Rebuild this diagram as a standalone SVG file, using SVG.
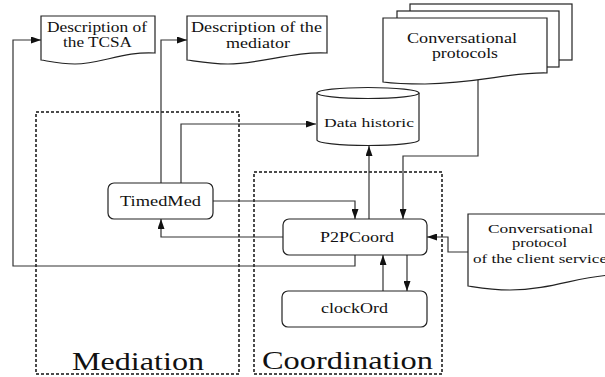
<svg xmlns="http://www.w3.org/2000/svg" width="605" height="377" viewBox="0 0 605 377" font-family="'Liberation Serif', 'DejaVu Serif', 'Times New Roman', Times, serif">
<style>
.t{fill:#111}
.box{fill:#fff;stroke:#222;stroke-width:1.2}
.doc{fill:#fff;stroke:#222;stroke-width:1.2}
.c{fill:none;stroke:#333;stroke-width:1.2}
.dash{fill:none;stroke:#111;stroke-width:1.5;stroke-dasharray:3 2}
</style>
<defs>
<marker id="ah" viewBox="0 0 10 7" refX="10" refY="3.5" markerWidth="10" markerHeight="7" markerUnits="userSpaceOnUse" orient="auto">
<path d="M0,0 L10,3.5 L0,7 Z" fill="#111"/>
</marker>
</defs>
<rect width="605" height="377" fill="#fff"/>

<g id="mediation">
<rect class="dash" x="36" y="112" width="203" height="262"/>
<text class="t" x="72" y="370" font-size="25" textLength="132" lengthAdjust="spacingAndGlyphs">Mediation</text>
</g>
<g id="coordination">
<rect class="dash" x="254" y="172" width="188" height="202"/>
<text class="t" x="262" y="369" font-size="25" textLength="171" lengthAdjust="spacingAndGlyphs">Coordination</text>
</g>

<g id="connectors">
<path class="c" d="M355,255 V266 H13 V40 H41" marker-end="url(#ah)"/>
<path class="c" d="M161,183 V40 H187" marker-end="url(#ah)"/>
<path class="c" d="M181,183 V124 H316" marker-end="url(#ah)"/>
<path class="c" d="M213,201 H355 V219" marker-end="url(#ah)"/>
<path class="c" d="M283,237 H161 V219" marker-end="url(#ah)"/>
<path class="c" d="M369,219 V146" marker-end="url(#ah)"/>
<path class="c" d="M478,80 V156 H403 V219" marker-end="url(#ah)"/>
<path class="c" d="M468,252 H448 V237 H427" marker-end="url(#ah)"/>
<path class="c" d="M383,291 V255" marker-end="url(#ah)"/>
<path class="c" d="M407,255 V291" marker-end="url(#ah)"/>
</g>

<g id="desc-tcsa">
<path class="doc" d="M41,16 H155 V53 C125,51 100,64 75,64 C60,64 48,61 41,60 Z"/>
<text class="t" x="47" y="32" font-size="14" textLength="100" lengthAdjust="spacingAndGlyphs">Description of</text>
<text class="t" x="63" y="47" font-size="14" textLength="69" lengthAdjust="spacingAndGlyphs">the TCSA</text>
</g>

<g id="desc-mediator">
<path class="doc" d="M187,16 H327 V53 C295,51 260,64 228,64 C210,64 195,61 187,60 Z"/>
<text class="t" x="191" y="32" font-size="14" textLength="131" lengthAdjust="spacingAndGlyphs">Description of the</text>
<text class="t" x="226" y="47.5" font-size="14" textLength="64" lengthAdjust="spacingAndGlyphs">mediator</text>
</g>

<g id="conv-protocols">
<rect class="doc" x="410" y="4" width="162" height="56"/>
<rect class="doc" x="397" y="11" width="162" height="56"/>
<path class="doc" d="M383,18 H547 V73 C510,72 480,83 425,84 C405,84 390,83 383,82 Z"/>
<text class="t" x="407" y="43" font-size="14" textLength="110" lengthAdjust="spacingAndGlyphs">Conversational</text>
<text class="t" x="432" y="58" font-size="14" textLength="66" lengthAdjust="spacingAndGlyphs">protocols</text>
</g>

<g id="data-historic">
<path class="box" d="M317,93 V140 A51,5.5 0 0 0 419,140 V93"/>
<ellipse class="box" cx="368" cy="93" rx="51" ry="5.5"/>
<text class="t" x="324" y="127" font-size="13" textLength="90" lengthAdjust="spacingAndGlyphs">Data historic</text>
</g>

<g id="timedmed">
<rect class="box" x="108" y="183" width="105" height="36" rx="6"/>
<text class="t" x="120" y="206" font-size="15" textLength="81" lengthAdjust="spacingAndGlyphs">TimedMed</text>
</g>

<g id="p2pcoord">
<rect class="box" x="283" y="219" width="144" height="36" rx="6"/>
<text class="t" x="320" y="242" font-size="15" textLength="74" lengthAdjust="spacingAndGlyphs">P2PCoord</text>
</g>

<g id="clockord">
<rect class="box" x="282" y="291" width="145" height="36" rx="6"/>
<text class="t" x="321" y="313" font-size="14" textLength="67" lengthAdjust="spacingAndGlyphs">clockOrd</text>
</g>

<g id="client-protocol">
<path class="doc" d="M468,214 H612 V275 C580,276 550,290 510,290 C490,290 475,287 468,286 Z"/>
<text class="t" x="488" y="233" font-size="13" textLength="105" lengthAdjust="spacingAndGlyphs">Conversational</text>
<text class="t" x="512" y="247" font-size="13" textLength="55" lengthAdjust="spacingAndGlyphs">protocol</text>
<text class="t" x="473" y="263" font-size="13" textLength="134" lengthAdjust="spacingAndGlyphs">of the client service</text>
</g>
</svg>
